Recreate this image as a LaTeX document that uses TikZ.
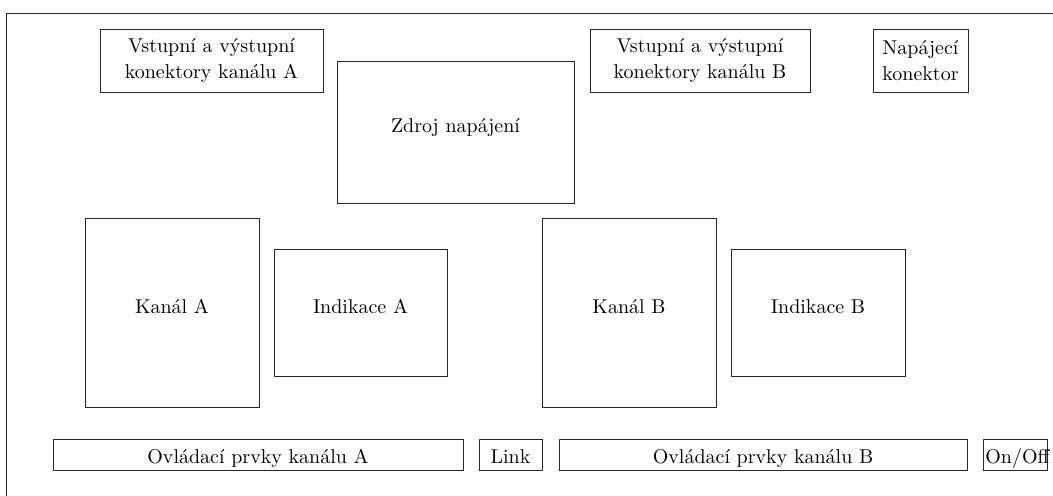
\documentclass[tikz,border=0pt]{standalone}
\begin{document}
\begin{tikzpicture}[x=0.5pt,y=-0.5pt,
  blk/.style={draw=black!85, line width=0.45pt, inner sep=0pt, align=center, font=\fontsize{10}{13}\selectfont},
  bigtext/.style={text height=7pt, text depth=6pt},
  lowtext/.style={text height=8.5pt, text depth=0pt},
  lbl/.style={inner sep=0pt, font=\fontsize{10}{13}\selectfont}]
\useasboundingbox (0,0) rectangle (1053,496);
\begin{scope}
\clip (0,0) rectangle (1053,496);
\draw[draw=black!85, line width=0.45pt] (6,13) rectangle (1070,510);
\end{scope}
\node[blk, minimum width=111.5pt, minimum height=31.5pt] (konA) at (211.5,60.5) {Vstupní a výstupní\\konektory kanálu A};
\node[blk, bigtext, minimum width=118.5pt, minimum height=71pt] (zdroj) at (455.5,132) {Zdroj napájení};
\node[blk, minimum width=110pt, minimum height=31.5pt] (konB) at (700,60.5) {Vstupní a výstupní\\konektory kanálu B};
\node[blk, minimum width=47.5pt, minimum height=31.5pt] (napkon) at (920.5,60.5) {Napájecí\\konektor};
\node[blk, bigtext, minimum width=87pt, minimum height=94.5pt] (kanA) at (172,312.5) {Kanál A};
\node[blk, bigtext, minimum width=86.5pt, minimum height=63.5pt] (indA) at (360.5,312.5) {Indikace A};
\node[blk, bigtext, minimum width=87pt, minimum height=94.5pt] (kanB) at (629,312.5) {Kanál B};
\node[blk, bigtext, minimum width=87pt, minimum height=63.5pt] (indB) at (818,312.5) {Indikace B};
\node[blk, lowtext, minimum width=205pt, minimum height=15.5pt] (ovlA) at (258,454.5) {Ovládací prvky kanálu A};
\node[blk, lowtext, minimum width=31.5pt, minimum height=15.5pt] (link) at (510.5,454.5) {Link};
\node[blk, lowtext, minimum width=204pt, minimum height=15.5pt] (ovlB) at (763,454.5) {Ovládací prvky kanálu B};
\node[blk, minimum width=32pt, minimum height=15.5pt] (onoff) at (1015,454.5) {};
\node[lbl, lowtext, anchor=west] (onofftxt) at (985,454.5) {On/Off};
\end{tikzpicture}
\end{document}
